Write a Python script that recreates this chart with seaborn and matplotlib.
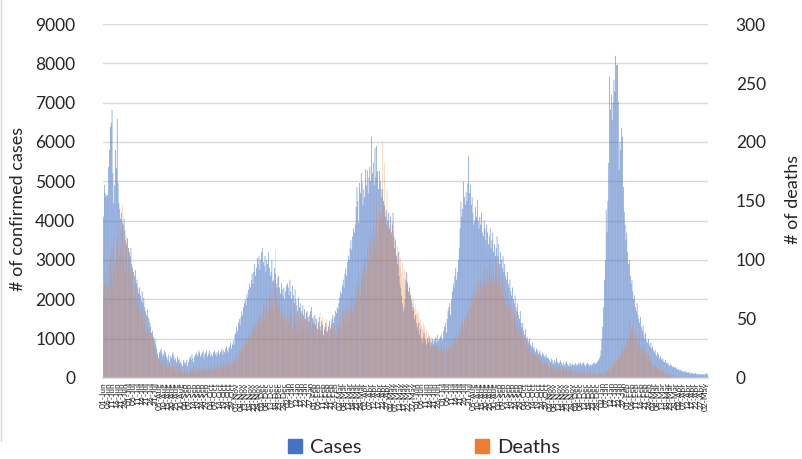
import pandas as pd
import numpy as np
import matplotlib.pyplot as plt
import seaborn as sns
from matplotlib.patches import Patch
from matplotlib.lines import Line2D

################ DAILY DATA ################
start_date = "2020-06-01"

# confirmed cases per day, Jun 2020 - Dec 2020
cases_2020 = [
    # Jun
    4100, 4900, 4700, 4600, 4650, 4650, 5370, 5800, 6390, 6490, 6820, 5210, 4450, 4900, 5800,
    5340, 6590, 4960, 4450, 4300, 4050, 4200, 3950, 3900, 4050, 3750, 3500, 3400, 3550, 3300,
    # Jul
    3200, 3100, 3300, 2900, 2800, 2700, 2600, 2750, 2400, 2500, 2300, 2150, 2300, 2100, 1950, 2200,
    1900, 2050, 1800, 1700, 1600, 1750, 1550, 1500, 1400, 1300, 1150, 1200, 1050, 950, 1000,
    # Aug
    850, 750, 600, 500, 650, 700, 750, 650, 550, 600, 700, 650, 550, 500, 450, 600,
    400, 550, 500, 600, 650, 550, 450, 500, 400, 550, 450, 500, 380, 420, 350,
    # Sep
    300, 450, 400, 350, 400, 450, 300, 400, 500, 550, 450, 600, 500, 400, 550,
    600, 650, 550, 600, 700, 650, 550, 600, 650, 700, 500, 600, 650, 700, 550,
    # Oct
    600, 700, 650, 550, 600, 550, 650, 700, 600, 650, 550, 650, 700, 600, 650, 700,
    750, 600, 700, 650, 750, 800, 700, 650, 750, 800, 900, 750, 850, 950, 850,
    # Nov
    1100, 1150, 1300, 1200, 1400, 1500, 1350, 1550, 1700, 1600, 1800, 1900, 2000, 1850, 2150,
    2050, 2250, 2400, 2300, 2500, 2650, 2400, 2700, 2900, 2600, 2800, 3050, 2900, 3100, 2750,
    # Dec
    3000, 3200, 3300, 2950, 2850, 3100, 2700, 3000, 2900, 3200, 2800, 2600, 2700, 3000, 2450, 2500,
    2800, 2650, 2400, 2300, 2550, 2600, 2300, 2150, 2400, 2250, 2100, 2300, 2000, 2200, 2350,
]

# confirmed cases per day, Jan 2021 - Dec 2021
cases_2021 = [
    # Jan
    2400, 2300, 2100, 2500, 2200, 2000, 2350, 2100, 1900, 2250, 2000, 1850, 1700, 2050, 1800, 1900,
    1650, 1700, 1850, 1600, 1750, 1500, 1650, 1700, 1550, 1450, 1600, 1700, 1800, 1500, 1550,
    # Feb
    1400, 1600, 1350, 1500, 1250, 1400, 1550, 1300, 1200, 1450, 1350, 1100, 1250, 1300,
    1400, 1150, 1200, 1300, 1450, 1250, 1350, 1500, 1600, 1400, 1550, 1700, 1650, 1800,
    # Mar
    1750, 1900, 2050, 2200, 2150, 2350, 2500, 2300, 2650, 2800, 2600, 2950, 3100, 3000, 3300, 3500,
    3250, 3600, 3800, 3700, 3900, 4350, 4850, 4500, 3950, 4960, 4700, 5210, 4960, 4400, 4800,
    # Apr
    4600, 5310, 4900, 5280, 4700, 5100, 5370, 5000, 6130, 5200, 5470, 4900, 5850, 5100, 5900,
    5260, 4800, 5260, 5000, 4800, 4600, 4800, 4500, 4400, 4100, 4270, 3900, 4000, 4200, 3800,
    # May
    4100, 3700, 3900, 4200, 3600, 3300, 3500, 3100, 2900, 3200, 2600, 2400, 2300, 2100, 1900, 1700,
    1800, 2000, 2500, 2700, 2400, 2200, 2300, 2100, 2000, 1900, 1700, 1800, 1500, 1600, 1400,
    # Jun
    1300, 1200, 1400, 1100, 1250, 1000, 900, 1050, 1150, 1000, 950, 850, 1000, 900, 1050,
    950, 800, 900, 1000, 850, 950, 1050, 1000, 900, 1100, 950, 1000, 1050, 1100, 950,
    # Jul
    1000, 1200, 1300, 1400, 1150, 1500, 1700, 1800, 1900, 1600, 2000, 2200, 2400, 2300, 2600, 2800,
    2500, 2700, 3000, 3300, 3800, 4480, 4100, 4300, 4990, 4600, 4400, 4730, 4500, 4940, 5650,
    # Aug
    4700, 4910, 4400, 4600, 4200, 3900, 4000, 4350, 4100, 4530, 4000, 3800, 4100, 3900, 4200, 3700,
    3600, 4000, 3800, 3500, 3900, 3700, 3400, 3600, 3800, 3300, 3500, 3700, 3200, 3400, 3100,
    # Sep
    3300, 3600, 3100, 3400, 2900, 3200, 3000, 2800, 3100, 2700, 2900, 2600, 2500, 2700, 2400,
    2300, 2500, 2200, 2100, 2300, 2000, 1900, 2100, 1800, 1700, 1900, 1600, 1500, 1700, 1400,
    # Oct
    1300, 1400, 1200, 1100, 1250, 1000, 1050, 950, 900, 1000, 850, 800, 900, 750, 800, 700,
    650, 750, 700, 600, 650, 700, 600, 550, 650, 600, 550, 500, 600, 550, 500,
    # Nov
    500, 450, 400, 500, 450, 400, 350, 450, 400, 500, 420, 380, 350, 400, 450,
    380, 320, 400, 350, 300, 380, 420, 350, 300, 330, 380, 350, 300, 360, 340,
    # Dec
    320, 380, 350, 300, 340, 380, 350, 400, 320, 360, 380, 400, 330, 300, 350, 380,
    360, 330, 300, 350, 320, 340, 380, 360, 400, 350, 380, 420, 450, 500, 550,
]

# confirmed cases per day, Jan 2022 - early May 2022
cases_2022 = [
    # Jan
    700, 1000, 1300, 1800, 2500, 3000, 4270, 3700, 4500, 5470, 7660, 6820, 7200, 6560, 7000, 7580,
    7280, 8190, 7960, 7970, 7020, 5290, 6000, 5800, 6360, 6130, 4860, 4220, 3900, 3500, 3700,
    # Feb
    3200, 2900, 3000, 2600, 2400, 2500, 2200, 2000, 2100, 1800, 1700, 1900, 1600, 1500,
    1400, 1550, 1300, 1200, 1350, 1100, 1000, 1150, 950, 900, 1000, 850, 800, 900,
    # Mar
    750, 800, 700, 650, 720, 600, 550, 650, 600, 500, 550, 480, 450, 500, 420, 400,
    450, 380, 350, 400, 330, 300, 350, 320, 280, 300, 260, 250, 280, 240, 220,
    # Apr
    220, 200, 180, 210, 190, 160, 170, 150, 180, 140, 160, 130, 150, 120, 140,
    110, 130, 120, 100, 110, 130, 100, 90, 110, 100, 80, 95, 85, 100, 90,
    # May
    80, 110, 95, 120, 100,
]

# deaths per day, Jun 2020 - Dec 2020
deaths_2020 = [
    70, 80, 90, 65, 80, 95, 75, 100, 105, 90, 110, 80, 120, 95, 100,
    115, 120, 95, 130, 105, 110, 125, 147, 100, 118, 90, 105, 120, 95, 110,
    100, 85, 95, 80, 90, 70, 75, 85, 65, 80, 70, 60, 75, 55, 65, 50,
    60, 45, 55, 50, 40, 45, 38, 42, 35, 40, 30, 35, 28, 25, 30,
    20, 15, 22, 18, 15, 12, 20, 14, 10, 15, 12, 18, 10, 8, 12, 9,
    14, 10, 8, 12, 7, 10, 9, 6, 11, 8, 5, 9, 7, 6, 8,
    6, 4, 8, 5, 7, 3, 6, 4, 5, 8, 6, 4, 7, 5, 9,
    6, 4, 7, 8, 5, 6, 9, 7, 5, 8, 6, 10, 7, 5, 8,
    7, 9, 6, 8, 10, 7, 9, 11, 8, 10, 7, 12, 9, 11, 8, 10,
    13, 9, 12, 10, 14, 11, 9, 13, 15, 12, 10, 14, 16, 13, 15,
    14, 18, 16, 20, 19, 23, 21, 25, 22, 28, 26, 30, 27, 33, 31,
    29, 35, 38, 34, 40, 37, 42, 45, 41, 48, 44, 50, 47, 55, 52,
    50, 46, 55, 60, 48, 62, 52, 66, 56, 60, 70, 55, 75, 62, 65, 58,
    80, 108, 68, 63, 72, 58, 66, 54, 62, 50, 58, 48, 55, 44, 52,
]

# deaths per day, Jan 2021 - Dec 2021
deaths_2021 = [
    55, 48, 60, 45, 52, 58, 42, 50, 62, 46, 55, 40, 48, 53, 44, 58,
    47, 39, 52, 45, 50, 41, 56, 43, 48, 38, 46, 52, 42, 47, 44,
    45, 38, 50, 42, 35, 48, 40, 55, 37, 44, 52, 36, 41, 47,
    33, 50, 39, 45, 34, 42, 48, 38, 43, 36, 46, 40, 35, 44,
    42, 48, 45, 52, 40, 55, 50, 58, 46, 60, 54, 62, 57, 48, 65, 60,
    70, 55, 68, 63, 72, 78, 66, 82, 75, 88, 70, 85, 92, 80, 98,
    95, 105, 88, 110, 100, 120, 98, 115, 125, 108, 130, 118, 112, 128, 148,
    122, 135, 128, 140, 132, 138, 201, 145, 182, 140, 130, 160, 135, 125, 130,
    128, 120, 132, 115, 125, 110, 118, 105, 112, 100, 108, 95, 102, 90, 98, 85,
    92, 80, 88, 75, 82, 70, 78, 72, 65, 70, 60, 66, 58, 62, 55,
    58, 52, 55, 48, 50, 45, 42, 47, 40, 44, 38, 41, 35, 39, 33,
    36, 30, 34, 28, 32, 27, 30, 25, 29, 26, 24, 28, 23, 27, 25,
    22, 26, 20, 24, 28, 21, 25, 30, 23, 27, 32, 26, 29, 34, 31, 36,
    33, 38, 35, 40, 42, 37, 45, 48, 43, 50, 52, 47, 55, 58, 53,
    60, 65, 58, 70, 63, 75, 68, 72, 80, 66, 78, 85, 70, 82, 88, 74,
    90, 80, 95, 84, 78, 92, 86, 100, 82, 96, 88, 80, 94, 85, 90,
    98, 82, 88, 76, 92, 80, 72, 85, 70, 78, 66, 74, 62, 70, 58,
    65, 55, 62, 50, 58, 48, 54, 45, 52, 42, 48, 40, 45, 38, 42,
    36, 32, 30, 34, 28, 31, 26, 29, 24, 27, 22, 25, 20, 23, 19, 21,
    18, 20, 16, 19, 15, 17, 14, 16, 13, 15, 12, 14, 11, 13, 12,
    11, 9, 12, 10, 8, 11, 9, 7, 10, 8, 6, 9, 7, 10, 8,
    6, 9, 7, 5, 8, 6, 9, 7, 5, 8, 6, 7, 5, 8, 6,
    5, 7, 4, 6, 3, 5, 7, 4, 6, 3, 5, 4, 6, 2, 5, 3,
    4, 6, 3, 5, 2, 4, 3, 5, 2, 4, 3, 2, 4, 3, 5,
]

# deaths per day, Jan 2022 - early May 2022
deaths_2022 = [
    3, 4, 2, 5, 3, 6, 4, 7, 5, 8, 6, 9, 7, 10, 12, 9,
    14, 11, 16, 13, 18, 15, 20, 17, 22, 25, 21, 28, 24, 30, 27,
    35, 32, 50, 38, 42, 36, 45, 33, 40, 30, 37, 28, 34,
    26, 31, 24, 29, 22, 27, 20, 25, 18, 22, 16, 20, 15, 18, 14,
    13, 10, 12, 9, 11, 8, 10, 7, 9, 6, 8, 5, 7, 4, 6, 5,
    3, 5, 4, 2, 4, 3, 2, 3, 1, 3, 2, 1, 2, 1, 2,
    1, 2, 0, 1, 2, 1, 0, 1, 3, 1, 0, 2, 1, 0, 1,
    2, 0, 1, 0, 1, 2, 0, 1, 0, 1, 0, 1, 2, 0, 1,
    0, 1, 0, 0, 1,
]

cases_ticks = list(range(0, 9001, 1000))
deaths_ticks = list(range(0, 301, 50))
label_every = 5

################ BUILD FRAME ################
cases = cases_2020 + cases_2021 + cases_2022
deaths = deaths_2020 + deaths_2021 + deaths_2022
assert len(cases) == len(deaths)

dates = pd.date_range(start_date, periods=len(cases), freq="D")
df = pd.DataFrame({"day": np.arange(len(cases)), "cases": cases, "deaths": deaths})

################ PLOT ################
sns.set_theme(style="white")
plt.rcParams["font.family"] = ["Lato", "DejaVu Sans"]

blue = "#4472C4"
orange = "#ED7D31"
grid_col = "#D9D9D9"

fig = plt.figure(figsize=(8.03, 4.59), dpi=100)
ax1 = fig.add_axes([0.1283, 0.1765, 0.7534, 0.7712])
ax2 = ax1.twinx()

# snap=False keeps the sub-pixel bars evenly shaded (no moire bands)
sns.barplot(data=df, x="day", y="cases", color=blue, width=0.75, alpha=0.8,
            linewidth=0, errorbar=None, saturation=1, snap=False, ax=ax1)
sns.barplot(data=df, x="day", y="deaths", color=orange, width=0.4, alpha=0.8,
            linewidth=0, errorbar=None, saturation=1, snap=False, ax=ax2)

ax1.set_ylim(0, 9000)
ax2.set_ylim(0, 300)
ax1.set_yticks(cases_ticks)
ax2.set_yticks(deaths_ticks)
ax1.set_xlim(-0.5, len(df) - 0.5)

ax1.set_axisbelow(True)
ax1.yaxis.grid(True, color=grid_col, linewidth=1.0)
ax1.xaxis.grid(False)
ax2.grid(False)

for a in (ax1, ax2):
    for s in a.spines.values():
        s.set_visible(False)
ax1.spines["bottom"].set_visible(True)
ax1.spines["bottom"].set_color(grid_col)

tick_pos = list(range(0, len(df), label_every))
ax1.set_xticks(tick_pos)
ax1.set_xticklabels(dates[tick_pos].strftime("%d-%b"), rotation=90, fontsize=6)
ax1.tick_params(axis="x", length=2, width=0.5, color="#BFBFBF", pad=1)
ax1.tick_params(axis="y", length=0, labelsize=12.5, pad=20)
ax2.tick_params(axis="y", length=0, labelsize=12.5, pad=20)

ax1.set_xlabel("")
ax1.set_ylabel("")
ax2.set_ylabel("")

fig.text(0.022, 0.545, "# of confirmed cases", rotation=90, ha="center", va="center", fontsize=13)
fig.text(0.988, 0.565, "# of deaths", rotation=90, ha="center", va="center", fontsize=13)

handles = [Patch(color=blue, label="Cases"), Patch(color=orange, label="Deaths")]
fig.legend(handles=handles, loc="center", bbox_to_anchor=(0.528, 0.026), ncol=2,
           frameon=False, fontsize=14.5, handlelength=0.7, handleheight=0.7,
           handletextpad=0.4, columnspacing=5.6)

# chart area border on the left edge
fig.add_artist(Line2D([0.0015, 0.0015], [0.04, 1.0], color="#D9D9D9", linewidth=1))

fig.savefig("out.png", dpi=100)
